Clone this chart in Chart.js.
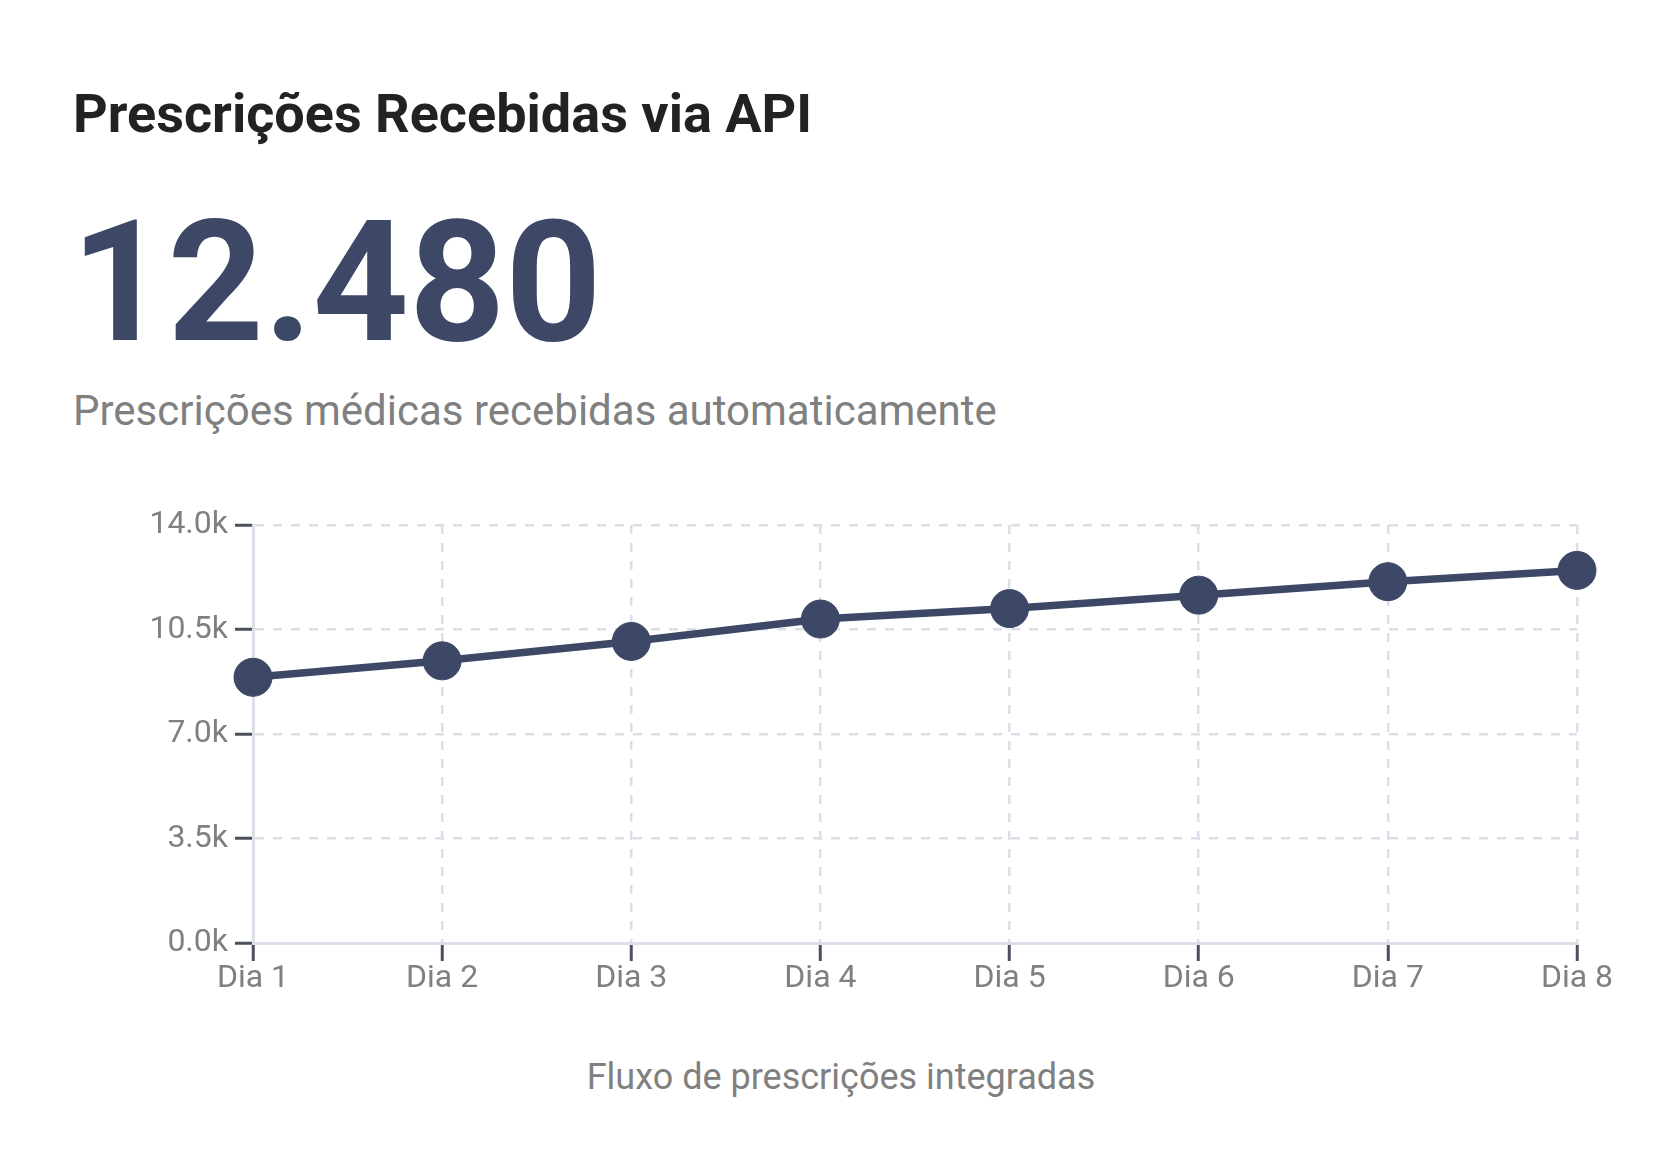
<!DOCTYPE html>
<html lang="pt-BR">
<head>
<meta charset="utf-8">
<title>Prescrições Recebidas via API</title>
<script src="https://cdn.jsdelivr.net/npm/chart.js@4.4.1/dist/chart.umd.min.js"></script>
<style>
    html, body { margin: 0; padding: 0; background: #fff; }
    body { width: 1677px; height: 1173px; position: relative; overflow: hidden; font-family: Roboto, "Noto Sans", sans-serif; }
    .titulo { position: absolute; left: 73px; top: 87px; margin: 0; font-size: 54px; line-height: 1; font-weight: 700; color: #222222; }
    .valor { position: absolute; left: 71px; top: 199px; margin: 0; font-size: 168px; line-height: 1; font-weight: 700; color: #3d4866; }
    .descricao { position: absolute; left: 73px; top: 390px; margin: 0; font-size: 42px; line-height: 1; color: #808080; }
    .grafico { position: absolute; left: 73px; top: 470px; width: 1540px; height: 560px; }
    .legenda { position: absolute; left: 0; width: 1682px; top: 1059px; margin: 0; text-align: center; font-size: 36px; line-height: 1; color: #808080; }
</style>
</head>
<body>
    <h1 class="titulo">Prescrições Recebidas via API</h1>
    <p class="valor">12.480</p>
    <p class="descricao">Prescrições médicas recebidas automaticamente</p>
    <div class="grafico"><canvas id="graficoPrescricoes"></canvas></div>
    <p class="legenda">Fluxo de prescrições integradas</p>

<script>
// Dados do gráfico
const dias = ['Dia 1', 'Dia 2', 'Dia 3', 'Dia 4', 'Dia 5', 'Dia 6', 'Dia 7', 'Dia 8'];
const prescricoes = [8900, 9450, 10100, 10850, 11200, 11650, 12100, 12480];
const ticksY = [0, 3500, 7000, 10500, 14000];

const corLinha = '#3d4866';
const corGrade = '#dcdfe7';
const corTick = '#4b505e';
const corTexto = '#808080';

const ctx = document.getElementById('graficoPrescricoes').getContext('2d');

new Chart(ctx, {
    type: 'line',
    data: {
        labels: dias,
        datasets: [{
            label: 'Prescrições',
            data: prescricoes,
            borderColor: corLinha,
            backgroundColor: corLinha,
            borderWidth: 7.5,
            pointRadius: 19,
            pointBorderWidth: 1,
            pointBackgroundColor: corLinha,
            tension: 0
        }]
    },
    options: {
        responsive: true,
        maintainAspectRatio: false,
        animation: false,
        layout: { padding: { top: 55, right: 36, left: 0, bottom: 0 } },
        plugins: {
            legend: { display: false },
            tooltip: { enabled: false }
        },
        scales: {
            x: {
                grid: { color: corGrade, lineWidth: 2.5, tickColor: corTick, tickLength: 18, tickWidth: 3 },
                border: { color: corGrade, width: 3, dash: [9, 9] },
                ticks: { color: corTexto, font: { family: 'Roboto', size: 32 }, padding: -1, maxRotation: 0 },
                afterFit: (scale) => { scale.height = 87; }
            },
            y: {
                min: 0,
                max: 14000,
                grid: { color: corGrade, lineWidth: 2.5, tickColor: corTick, tickLength: 18, tickWidth: 3 },
                border: { color: corGrade, width: 3, dash: [9, 9] },
                ticks: {
                    color: corTexto,
                    font: { family: 'Roboto', size: 32 },
                    padding: 7,
                    callback: (v) => (v / 1000).toFixed(1) + 'k'
                },
                afterBuildTicks: (scale) => { scale.ticks = ticksY.map(v => ({ value: v })); },
                afterFit: (scale) => { scale.width = 180; }
            }
        }
    }
});
</script>
</body>
</html>
